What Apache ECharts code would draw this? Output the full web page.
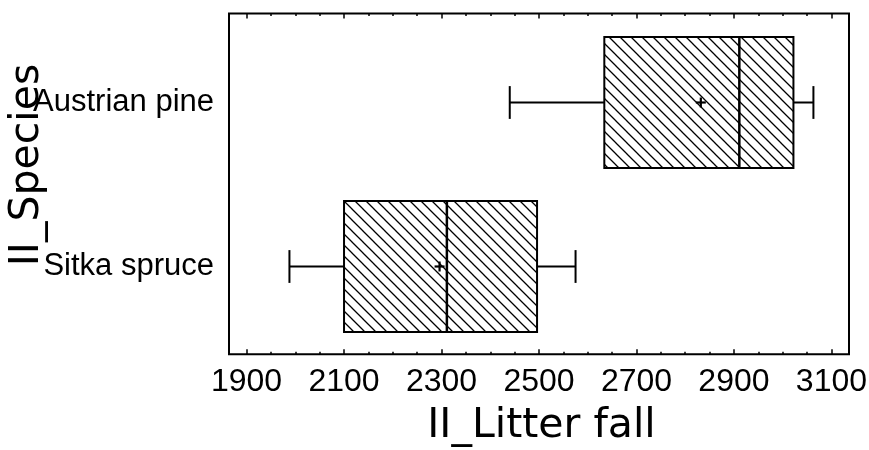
<!DOCTYPE html>
<html>
<head>
<meta charset="utf-8">
<script src="https://cdn.jsdelivr.net/npm/echarts@6/dist/echarts.min.js"></script>
<style>
html,body{margin:0;padding:0;background:#fff;}
#chart{width:869px;height:450px;}
</style>
</head>
<body>
<div id="chart"></div>
<script>
// ---- data ----
const species = ['Austrian pine', 'Sitka spruce'];
const whiskerLow = [2440, 1988];
const q1 = [2634, 2100];
const median = [2911, 2311];
const q3 = [3022, 2496];
const whiskerHigh = [3063, 2575];
const mean = [2832, 2296];
const xTickLabels = [1900, 2100, 2300, 2500, 2700, 2900, 3100];
const xMinorTicks = [1900, 1950, 2000, 2050, 2100, 2150, 2200, 2250, 2300, 2350, 2400, 2450, 2500,
  2550, 2600, 2650, 2700, 2750, 2800, 2850, 2900, 2950, 3000, 3050, 3100];
const xMin = 1864, xMax = 3136;
const xTitle = 'II_Litter fall';
const yTitle = 'II_Species';

// ---- hatch pattern ----
function makeHatch() {
  const s = 11;
  const c = document.createElement('canvas');
  c.width = s; c.height = s;
  const g = c.getContext('2d');
  g.fillStyle = '#fff';
  g.fillRect(0, 0, s, s);
  g.strokeStyle = '#000';
  g.lineWidth = 1.3;
  g.beginPath();
  g.moveTo(-2, -2); g.lineTo(s + 2, s + 2);
  g.moveTo(-2, s - 2); g.lineTo(2, s + 2);
  g.moveTo(s - 2, -2); g.lineTo(s + 2, 2);
  g.stroke();
  return c;
}
const hatch = makeHatch();

const rows = species.map((s, i) => [i, whiskerLow[i], q1[i], median[i], q3[i], whiskerHigh[i], mean[i]]);

const FONT = "'Liberation Sans', Arial, sans-serif";
const TFONT = "'DejaVu Sans', sans-serif";

function renderBox(params, api) {
  const cat = api.value(0);
  const pLow = api.coord([api.value(1), cat]);
  const pQ1 = api.coord([api.value(2), cat]);
  const pMed = api.coord([api.value(3), cat]);
  const pQ3 = api.coord([api.value(4), cat]);
  const pHigh = api.coord([api.value(5), cat]);
  const pMean = api.coord([api.value(6), cat]);
  const band = api.size([0, 1])[1];
  const boxH = band * 0.8;
  const capH = band * 0.2;
  const y = pQ1[1];
  const lw = 2;
  const ln = (x1, y1, x2, y2, w) => ({
    type: 'line',
    shape: { x1, y1, x2, y2 },
    style: { stroke: '#000', lineWidth: w || lw }
  });
  return {
    type: 'group',
    children: [
      ln(pLow[0], y, pQ1[0], y),
      ln(pQ3[0], y, pHigh[0], y),
      ln(pLow[0], y - capH / 2, pLow[0], y + capH / 2),
      ln(pHigh[0], y - capH / 2, pHigh[0], y + capH / 2),
      {
        type: 'rect',
        shape: { x: pQ1[0], y: y - boxH / 2, width: pQ3[0] - pQ1[0], height: boxH },
        style: { fill: { image: hatch, repeat: 'repeat' }, stroke: '#000', lineWidth: lw }
      },
      ln(pMed[0], y - boxH / 2, pMed[0], y + boxH / 2, 2.5),
      ln(pMean[0] - 5, pMean[1], pMean[0] + 5, pMean[1], 2.2),
      ln(pMean[0], pMean[1] - 5, pMean[0], pMean[1] + 5, 2.2)
    ]
  };
}

const tickStyle = { color: '#000', width: 1.5 };
function frameAxis(position, ticks, len, labels) {
  return {
    gridIndex: 0, type: 'value', min: xMin, max: xMax, position: position,
    axisLine: { show: false }, splitLine: { show: false },
    axisTick: { show: true, inside: true, length: len, customValues: ticks, lineStyle: tickStyle },
    axisLabel: labels ? {
      show: true, customValues: xTickLabels, fontSize: 32, fontFamily: FONT, color: '#000', margin: 12,
      formatter: (v) => String(v), hideOverlap: false, showMinLabel: true, showMaxLabel: true
    } : { show: false }
  };
}

const chart = echarts.init(document.getElementById('chart'), null, { renderer: 'canvas' });
chart.setOption({
  animation: false,
  backgroundColor: '#fff',
  grid: [
    { left: 229, right: 20, top: 13.5, bottom: 95.7, show: true, borderColor: '#000', borderWidth: 2,
      backgroundColor: 'transparent', containLabel: false, outerBoundsMode: 'none' },
    { left: 229, right: 20, top: 20.5, height: 328, containLabel: false, outerBoundsMode: 'none' }
  ],
  xAxis: [
    frameAxis('bottom', xTickLabels, 5, true),
    frameAxis('bottom', xMinorTicks, 2.5, false),
    frameAxis('top', xTickLabels, 5, false),
    frameAxis('top', xMinorTicks, 2.5, false),
    { gridIndex: 1, type: 'value', min: xMin, max: xMax, show: false }
  ],
  yAxis: [
    { gridIndex: 0, type: 'value', min: 0, max: 1, show: false },
    {
      gridIndex: 1, type: 'category', data: species, inverse: true,
      axisLine: { show: false }, axisTick: { show: false }, splitLine: { show: false },
      axisLabel: { fontSize: 31, fontFamily: FONT, color: '#000', margin: 15 }
    }
  ],
  series: [{
    type: 'custom',
    xAxisIndex: 4, yAxisIndex: 1,
    renderItem: renderBox,
    encode: { y: 0, x: [1, 2, 3, 4, 5, 6] },
    data: rows,
    clip: false
  }],
  graphic: [
    {
      type: 'text', x: 541.5, y: 426, z: 10,
      style: { text: xTitle, font: '41px ' + TFONT, fill: '#000', align: 'center', verticalAlign: 'middle' }
    },
    {
      type: 'text', x: 27, y: 165, rotation: Math.PI / 2, z: 10,
      style: { text: yTitle, font: '41px ' + TFONT, fill: '#000', align: 'center', verticalAlign: 'middle' }
    }
  ]
});
</script>
</body>
</html>
